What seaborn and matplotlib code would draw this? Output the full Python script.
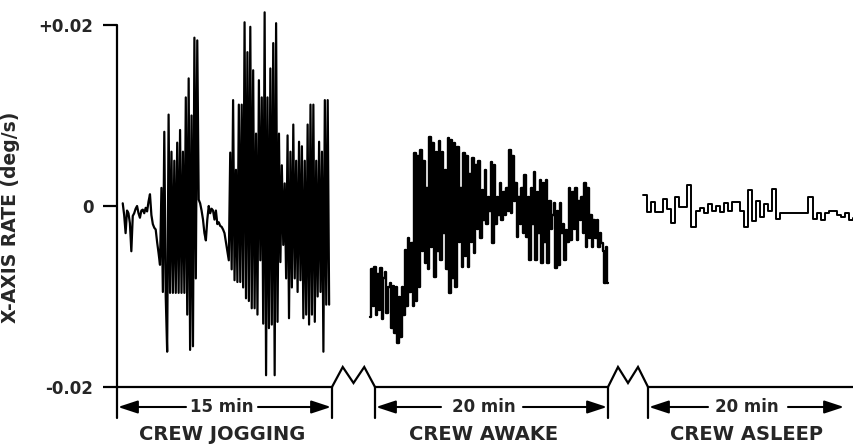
"""
Skylab-style strip chart: X-axis body rate while the crew jogs, is awake
and is asleep. Three time segments on one rate axis, with broken time axis.
"""

import matplotlib

matplotlib.use("Agg")
import matplotlib.pyplot as plt
import numpy as np
import pandas as pd
import seaborn as sns

# ---- data (rate in 0.001 deg/s) ------------------------------------------
RATE_TICKS = [-0.02, 0.0, 0.02]
RATE_TICK_LABELS = ["-0.02", "0", "+0.02"]

SEGMENT_NAMES = ["CREW JOGGING", "CREW AWAKE", "CREW ASLEEP"]
SEGMENT_MINUTES = [15, 20, 20]

# jogging: one sample every 0.1 min starting at 0.4 min
jog_start, jog_step = 0.4, 0.1
jog_rate = [
    0.3, -1.0, -3.0, -0.5, -0.8, -1.9, -5.0, -1.1, -0.8, -0.3,
    0.0, -0.8, -1.3, -0.5, -0.4, -0.8, -0.2, -0.6, 0.5, 1.3,
    -1.0, -2.0, -2.4, -2.6, -4.0, -5.2, -6.5, 2.0, -9.5, 8.2,
    -10.0, -16.1, 10.1, -9.6, 6.0, -9.6, 5.0, -9.6, 7.0, -9.6,
    8.4, -9.6, 6.0, -9.6, 12.0, -12.0, 14.1, -15.9, 10.0, -15.5,
    18.6, -8.0, 18.3, 0.7, 0.3, -0.5, -1.5, -3.0, -3.8, -1.5,
    0.0, -0.8, -0.3, -0.5, -1.5, -0.5, -2.0, -1.8, -2.2, -2.3,
    -2.6, -3.0, -4.0, -5.0, -6.0, 5.9, -7.0, 11.7, -8.2, 4.0,
    -8.4, 11.2, -8.4, 11.2, -9.0, 20.3, -10.2, 17.0, -10.5, 19.8,
    -11.3, 15.0, -11.3, 8.0, -12.0, 13.9, -6.0, 12.0, -13.0, 21.4,
    -18.7, 12.0, -13.5, 15.2, -13.1, 18.0, -18.7, 20.2, -12.8, 8.0,
    -6.2, 4.5, -4.3, 2.5, -8.0, 7.8, -12.4, 6.0, -9.0, 9.0,
    -8.0, 5.0, -9.5, 7.1, -8.2, 6.6, -12.4, 5.0, -12.0, 9.0,
    -13.1, 11.2, -12.0, 11.2, -12.8, 5.0, -10.0, 7.1, -9.5, 6.0,
    -16.1, 11.7, -10.9, 11.7, -10.9,
]

# awake: evenly sampled from -0.4 min to 20 min
awake_start, awake_end = -0.4, 20.0
awake_rate = [
    -12.3, -7.0, -11.0, -6.7, -12.0, -7.5, -11.5, -6.9, -12.5, -8.0,
    -7.3, -11.8, -9.0, -8.5, -13.5, -8.8, -14.0, -9.0, -15.1, -10.0,
    -14.5, -9.0, -12.0, -4.9, -11.0, -3.5, -9.5, -4.1, -11.0, 5.9,
    -10.5, 5.5, -9.0, 6.2, -5.0, 5.0, -6.3, 2.0, -7.0, 7.6,
    -4.5, 7.0, -7.8, 6.0, -5.0, 7.2, -6.0, 6.0, -3.0, 4.0,
    -7.0, 7.5, -9.6, 7.3, -8.0, 7.0, -9.0, 6.5, -4.0, 2.0,
    -6.7, 5.9, -5.5, 5.5, -6.7, 3.5, -4.0, 5.3, -5.2, 4.5,
    -2.5, 5.0, -3.5, 1.8, -1.5, 4.0, -2.0, 1.0, -0.5, 4.9,
    -4.1, 4.5, -2.0, 1.0, -1.0, 2.5, -1.5, 1.5, -1.0, 2.0,
    -0.5, 6.2, -0.8, 5.5, 0.5, 2.5, -3.4, 1.0, -2.0, 2.0,
    -3.0, 3.4, -3.4, 1.0, -6.0, 2.0, -2.0, 3.8, -6.0, 1.5,
    -3.0, 2.9, -6.3, 2.5, -4.0, 2.9, -6.3, 0.5, -2.5, -1.0,
    0.3, -6.9, -0.5, -6.5, 0.3, -3.0, -2.0, -6.0, -2.7, -4.0,
    2.0, -3.8, 1.5, -2.5, 2.0, -3.8, 0.5, -1.5, 1.0, -3.0,
    2.5, -4.5, 2.0, -3.5, -1.0, -4.5, -1.5, -3.5, -1.5, -4.5,
    -3.0, -4.1, -5.0, -8.5, -4.5, -8.5,
]

# asleep: stepped trace, evenly sampled from -0.5 min to 20.8 min
asleep_start, asleep_end = -0.5, 20.8
asleep_rate = [
    1.2, -0.7, 0.4, -0.7, -0.7, 0.8, -0.3, -1.9, 1.0, -0.1,
    -0.1, 2.3, -2.3, -0.5, -0.2, -0.8, 0.2, -0.6, 0.0, -0.7,
    0.3, -0.5, 0.4, 0.4, -0.6, -2.3, 1.8, -1.7, 0.6, -1.2,
    0.2, -0.5, 1.9, -1.4, -0.8, -0.8, -0.8, -0.8, -0.8, -0.8,
    -0.8, 1.0, -1.4, -0.8, -1.5, -0.8, -0.6, -0.5, -1.0, -1.2,
    -0.8, -1.5, -1.3,
]

# ---- layout of the reference (pixels) --------------------------------------
W, H = 854, 445
Y_TOP, Y_BASE = 25, 387
SEG_PX = [(117, 332), (375, 608), (648, 845)]
ARROW_Y, NAME_Y, TICK_BOTTOM = 407, 435, 418
ARROW_GAPS = [(186, 258), (441, 523), (708, 788)]
LABEL_X = [222, 484, 747]
INK = "black"


def main():
    sns.set_style("white")
    plt.rcParams["font.family"] = ["DejaVu Sans"]
    plt.rcParams["font.weight"] = "bold"

    fig = plt.figure(figsize=(W / 100, H / 100), dpi=100)

    # overlay in reference pixel space for the broken time axis
    deco = fig.add_axes([0, 0, 1, 1])
    deco.set_xlim(0, W)
    deco.set_ylim(H, 0)
    deco.axis("off")

    jog = pd.DataFrame({
        "t": jog_start + jog_step * np.arange(len(jog_rate)),
        "rate": np.array(jog_rate) / 1000.0,
    })
    awake = pd.DataFrame({
        "t": np.linspace(awake_start, awake_end, len(awake_rate)),
        "rate": np.array(awake_rate) / 1000.0,
    })
    asleep = pd.DataFrame({
        "t": np.linspace(asleep_start, asleep_end, len(asleep_rate)),
        "rate": np.array(asleep_rate) / 1000.0,
    })
    frames = [jog, awake, asleep]
    styles = [dict(lw=1.6), dict(lw=1.7, drawstyle="steps-mid"),
              dict(lw=1.4, drawstyle="steps-post")]

    axes = []
    for (x0, x1), minutes, df, kw in zip(SEG_PX, SEGMENT_MINUTES, frames, styles):
        ax = fig.add_axes([x0 / W, (H - Y_BASE) / H, (x1 - x0) / W, (Y_BASE - Y_TOP) / H])
        ax.patch.set_alpha(0)
        sns.lineplot(data=df, x="t", y="rate", ax=ax, color=INK, sort=False,
                     estimator=None, clip_on=False, **kw)
        ax.set_xlim(0, minutes)
        ax.set_ylim(-0.02, 0.02)
        ax.set_xlabel("")
        ax.set_ylabel("")
        ax.set_xticks([])
        ax.set_yticks([])
        for s in ax.spines.values():
            s.set_visible(False)
        axes.append(ax)

    # rate axis on the first segment
    ax0 = axes[0]
    ax0.set_yticks(RATE_TICKS)
    ax0.set_yticklabels(RATE_TICK_LABELS, fontsize=12, fontweight="bold")
    ax0.tick_params(axis="y", length=10, width=1.6, pad=7, color=INK, left=True)
    ax0.set_ylabel("X-AXIS RATE (deg/s)", fontsize=13.5, fontweight="bold")
    ax0.yaxis.set_label_coords(-0.45, 0.47)

    lw = 1.6
    # vertical rate axis line, running down past the time axis
    deco.plot([SEG_PX[0][0]] * 2, [Y_TOP, TICK_BOTTOM], color=INK, lw=lw)

    # time axis with zigzag breaks
    deco.plot([SEG_PX[0][0], SEG_PX[0][1]], [Y_BASE, Y_BASE], color=INK, lw=lw)
    deco.plot([SEG_PX[1][0], SEG_PX[1][1]], [Y_BASE, Y_BASE], color=INK, lw=lw)
    deco.plot([SEG_PX[2][0], W], [Y_BASE, Y_BASE], color=INK, lw=lw)
    for a, b in [(SEG_PX[0][1], SEG_PX[1][0]), (SEG_PX[1][1], SEG_PX[2][0])]:
        q = (b - a) / 4
        deco.plot([a, a + q, a + 2 * q, a + 3 * q, b],
                  [Y_BASE, Y_BASE - 20, Y_BASE - 4, Y_BASE - 20, Y_BASE],
                  color=INK, lw=lw, solid_joinstyle="miter")
        deco.plot([a, a], [Y_BASE, TICK_BOTTOM], color=INK, lw=lw)
        deco.plot([b, b], [Y_BASE, TICK_BOTTOM], color=INK, lw=lw)

    # duration arrows and segment names
    arrow = dict(arrowstyle="-|>,head_length=0.85,head_width=0.28", lw=1.5,
                 color=INK, shrinkA=0, shrinkB=0, mutation_scale=14)
    for (x0, x1), (g0, g1), lx, minutes, name in zip(
            SEG_PX, ARROW_GAPS, LABEL_X, SEGMENT_MINUTES, SEGMENT_NAMES):
        deco.annotate("", xy=(x0 + 1, ARROW_Y), xytext=(g0, ARROW_Y), arrowprops=arrow)
        deco.annotate("", xy=(x1 - 1, ARROW_Y), xytext=(g1, ARROW_Y), arrowprops=arrow)
        deco.text(lx, ARROW_Y, f"{minutes} min", ha="center", va="center",
                  fontsize=12, fontweight="bold")
        deco.text(lx, NAME_Y, name, ha="center", va="center",
                  fontsize=14, fontweight="bold")

    fig.savefig("out.png", dpi=100)
    plt.close(fig)


if __name__ == "__main__":
    main()
